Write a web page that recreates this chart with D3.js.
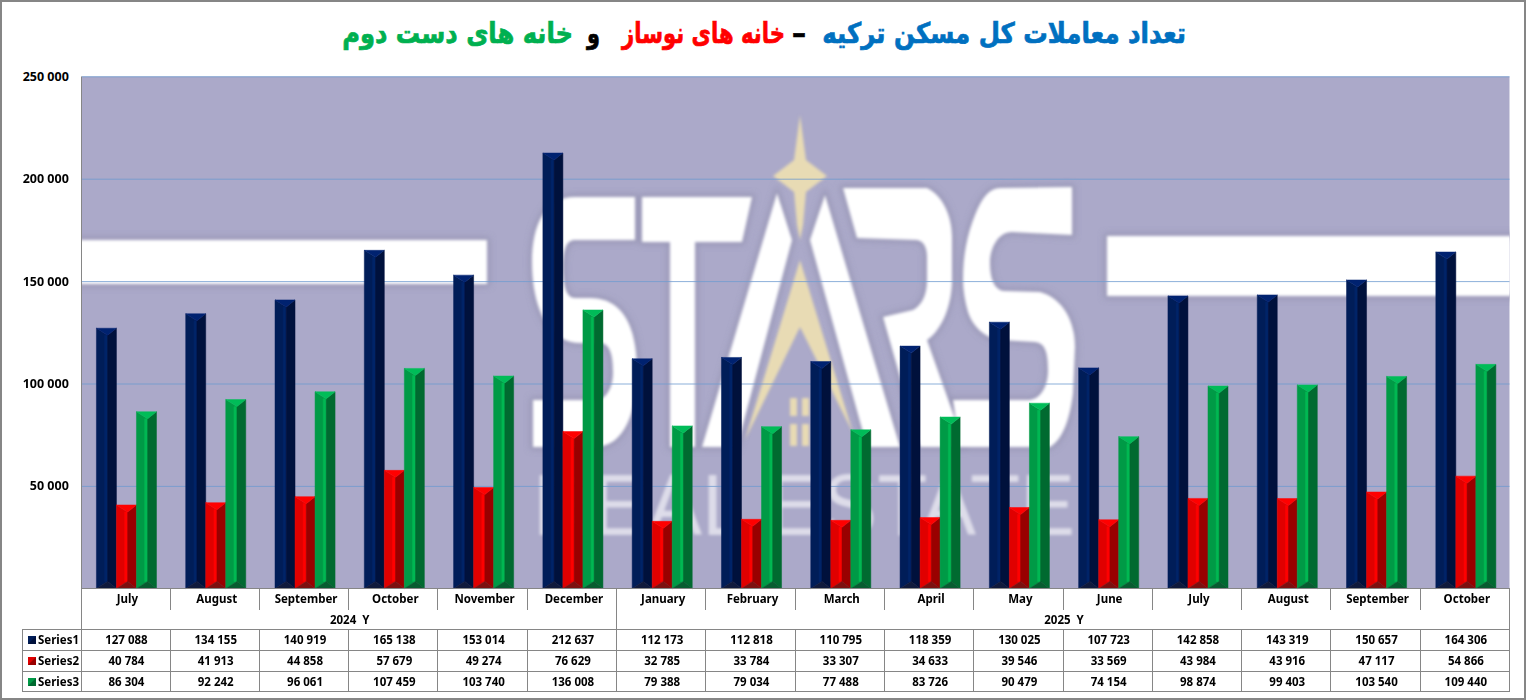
<!DOCTYPE html>
<html>
<head>
<meta charset="utf-8">
<title>Turkey housing sales</title>
<script src="https://cdn.jsdelivr.net/npm/d3@7"></script>
<style>
  html, body { margin: 0; padding: 0; background: #fff; }
  svg { display: block; }
  text { font-family: "Noto Sans", sans-serif; font-weight: 700; fill: #000; }
  .title { font-family: "DejaVu Sans", sans-serif; font-weight: 700; font-size: 24px; direction: rtl; }
</style>
</head>
<body>
<svg id="chart" width="1526" height="700"></svg>
<script>
// Values
var months = ["July", "August", "September", "October", "November", "December",
  "January", "February", "March", "April", "May", "June",
  "July", "August", "September", "October"];
var series1 = [127088, 134155, 140919, 165138, 153014, 212637, 112173, 112818, 110795, 118359, 130025, 107723, 142858, 143319, 150657, 164306];
var series2 = [40784, 41913, 44858, 57679, 49274, 76629, 32785, 33784, 33307, 34633, 39546, 33569, 43984, 43916, 47117, 54866];
var series3 = [86304, 92242, 96061, 107459, 103740, 136008, 79388, 79034, 77488, 83726, 90479, 74154, 98874, 99403, 103540, 109440];
var seriesNames = ["Series1", "Series2", "Series3"];
var yTicks = [50000, 100000, 150000, 200000, 250000];
var years = [{label: "2024\u00a0\u00a0Y", first: 0, last: 5}, {label: "2025\u00a0\u00a0Y", first: 6, last: 15}];

var titleParts = [
  {text: "تعداد معاملات کل مسکن ترکیه", right: 1186, width: 364, color: "#0070c0"},
  {text: "–", right: 806, width: 14, color: "#000"},
  {text: "خانه های نوساز", right: 785, width: 163, color: "#ff0000"},
  {text: "و", right: 600, width: 13, color: "#000"},
  {text: "خانه های دست دوم", right: 573, width: 231, color: "#00b050"}
];

// left, strip, right, top, bottom faces of the bevelled bars
var faces = {
  Series1: ["#001d58", "#002468", "#00113c", "#002270", "#101a3c"],
  Series2: ["#e00000", "#ff0000", "#990000", "#ff0000", "#7c1010"],
  Series3: ["#009a46", "#00b853", "#006a30", "#00bc58", "#085c30"]
};
var values = {Series1: series1, Series2: series2, Series3: series3};

var fmt = d3.formatLocale({decimal: ".", thousands: " ", grouping: [3], currency: ["", ""]}).format(",d");
var lineColor = "#868686";

var plot = {left: 81.8, right: 1510.5, top: 76.5, bottom: 588.5};
var rowY = {months: 610, years: 629, s1: 650, s2: 671, s3: 691};

var svg = d3.select("#chart");

var x = d3.scaleBand().domain(d3.range(months.length)).range([plot.left, plot.right]);
var xInner = d3.scaleBand().domain(seriesNames).range([0, x.bandwidth()]).paddingOuter(0.73);
var y = d3.scaleLinear().domain([0, 250000]).range([plot.bottom, plot.top]);

function drawFrame() {
  svg.append("rect").attr("x", 1).attr("y", 1).attr("width", 1524).attr("height", 698)
    .attr("fill", "#fff").attr("stroke", lineColor).attr("stroke-width", 2);
}

function drawTitle() {
  var t = svg.selectAll("text.title").data(titleParts).enter().append("text")
    .attr("class", "title")
    .style("fill", function(d) { return d.color; })
    .style("stroke", function(d) { return d.color; })
    .style("stroke-width", 0.6)
    .text(function(d) { return d.text; });
  /* Squeeze each piece to the width it has in the picture, the font is wider than the original. */
  t.attr("transform", function(d) {
    var sx = d.width / this.getComputedTextLength();
    return "translate(" + d.right + ",43) scale(" + sx + ",1.18)";
  });
}

function drawWatermark() {
  /* Faded logo behind the bars. It is only decoration, so it is drawn by hand. */
  var defs = svg.append("defs");
  defs.append("filter").attr("id", "soft").attr("x", "-5%").attr("y", "-5%").attr("width", "110%").attr("height", "110%")
    .append("feGaussianBlur").attr("stdDeviation", 1.7);
  defs.append("filter").attr("id", "halo").attr("x", "-5%").attr("y", "-5%").attr("width", "110%").attr("height", "110%")
    .append("feGaussianBlur").attr("stdDeviation", 3);
  defs.append("clipPath").attr("id", "plotClip").append("rect")
    .attr("x", plot.left).attr("y", plot.top)
    .attr("width", plot.right - plot.left - 1).attr("height", plot.bottom - plot.top);

  svg.append("rect").attr("x", plot.left).attr("y", plot.top)
    .attr("width", plot.right - plot.left - 1).attr("height", plot.bottom - plot.top)
    .attr("fill", "#aba9c9");

  var shapes = [
    "M70 240 L487 240 L487 284 L70 284 Z",
    "M1107 236 L1530 236 L1530 296 L1107 296 Z",
    // S
    "M635 197 L575 197 C545 197 532 225 532 262 C532 310 550 343 580 343 L600 343 C610 343 613 355 613 372 C613 390 605 400 595 400 L533 400 L533 447 L595 447 C625 447 637 410 637 372 C637 330 625 298 590 298 L575 298 C566 298 563 285 563 268 C563 250 566 240 575 240 L635 240 Z",
    // T
    "M642 197 L752 197 L742 242 L695 242 L695 447 L670 447 L670 242 L642 242 Z",
    // A
    "M777 193 L792 240 L737 447 L702 447 Z",
    "M825 195 L810 240 L867 447 L900 447 Z",
    // R
    "M843 188 L927 188 C942 195 952 215 952 237 L952 280 C952 305 942 330 927 340 L965 447 L920 447 L883 317 L913 310 C922 305 927 295 927 280 L927 257 C927 248 924 241 917 240 L857 238 Z",
    // S
    "M1072 187 L1072 235 L1012 232 C998 232 990 248 990 263 C990 278 994 290 1004 291 L1040 292 C1062 298 1075 320 1075 347 L1073 393 C1070 420 1062 440 1050 447 L960 447 L953 400 L1030 400 C1042 398 1048 385 1048 370 C1048 352 1045 343 1035 342 L1000 340 C985 338 973 327 968 312 C965 302 963 290 963 280 C963 255 967 235 975 215 C982 197 990 188 1000 188 Z"
  ];

  var clip = svg.append("g").attr("clip-path", "url(#plotClip)");

  // the logo has a faint grey edge, as a scaled up image would
  clip.append("g").attr("filter", "url(#halo)").selectAll("path").data(shapes).enter().append("path")
    .attr("d", function(d) { return d; })
    .attr("fill", "none").attr("stroke", "#8f8dab").attr("stroke-width", 5).attr("opacity", 0.7);

  var g = clip.append("g").attr("filter", "url(#soft)");
  g.selectAll("path.logo").data(shapes).enter().append("path")
    .attr("class", "logo")
    .attr("d", function(d) { return d; })
    .attr("fill", "#fff");

  // star, gold triangle and the little windows
  var gold = [
    "M800 115 L806 160 L827 176 L806 192 L803 225 L800 240 L797 225 L794 192 L773 176 L794 160 Z",
    "M800 260 L853 433 L800 327 L745 440 Z"
  ];
  g.selectAll("path.gold").data(gold).enter().append("path")
    .attr("class", "gold")
    .attr("d", function(d) { return d; })
    .attr("fill", "#e8dbb4");
  g.selectAll("path.win").data([
    "M790 398 L797 398 L797 416 L790 416 Z", "M802 398 L809 398 L809 416 L802 416 Z",
    "M790 424 L797 424 L797 446 L790 446 Z", "M802 424 L809 424 L809 446 L802 446 Z"
  ]).enter().append("path")
    .attr("class", "win")
    .attr("d", function(d) { return d; })
    .attr("fill", "#e8dbb4");

  g.append("text")
    .attr("x", 533).attr("y", 535)
    .attr("textLength", 542).attr("lengthAdjust", "spacingAndGlyphs")
    .style("font-family", "Liberation Sans, sans-serif")
    .style("font-size", "88px").style("font-weight", 400).style("fill", "#fff").attr("opacity", 0.6)
    .text("REAL ESTATE");
}

function drawGrid() {
  var axis = d3.axisLeft(y).tickValues(yTicks).tickFormat(fmt).offset(0.3)
    .tickSize(-(plot.right - plot.left - 1)).tickPadding(13);
  var g = svg.append("g").attr("transform", "translate(" + plot.left + ",0)").call(axis);
  g.select(".domain").remove();
  g.selectAll("line").attr("stroke", "#6f9bd0").attr("stroke-opacity", 0.8).attr("stroke-width", 1);
  g.selectAll("text").style("font-size", "12.5px").style("font-family", "Noto Sans, sans-serif");
  svg.append("line").attr("x1", 81.5).attr("x2", 81.5)
    .attr("y1", plot.top).attr("y2", plot.bottom).attr("stroke", lineColor);
}

function barFaces(name, i) {
  /* Five polygons that give one bar its bevelled look. */
  var v = values[name][i];
  var l = x(i) + xInner(name);
  var w = xInner.bandwidth();
  var r = l + w;
  var mid = l + w * 0.56;
  var bev = 7;
  var top = y(v);
  var base = y(0);
  var pts = [
    [[l, top], [mid, top + bev], [mid, base - bev], [l, base]],
    [[mid - 3, top + bev], [mid, top + bev], [mid, base - bev], [mid - 3, base - bev]],
    [[r, top], [mid, top + bev], [mid, base - bev], [r, base]],
    [[l, top], [r, top], [mid, top + bev]],
    [[l, base], [r, base], [mid, base - bev]]
  ];
  return pts.map(function(p, k) { return {points: p, fill: faces[name][k]}; });
}

function drawBars() {
  var line = d3.line();
  var groups = svg.selectAll("g.series").data(seriesNames).enter().append("g").attr("class", "series");
  var bars = groups.selectAll("g.bar")
    .data(function(name) { return months.map(function(m, i) { return {name: name, i: i}; }); })
    .enter().append("g").attr("class", "bar");
  bars.selectAll("path")
    .data(function(d) { return barFaces(d.name, d.i); })
    .enter().append("path")
      .attr("d", function(d) { return line(d.points) + "Z"; })
      .attr("fill", function(d) { return d.fill; })
      .attr("stroke", function(d) { return d.fill; })
      .attr("stroke-width", 0.5);
}

function hLine(x1, x2, yy) {
  svg.append("line").attr("x1", x1).attr("x2", x2).attr("y1", yy + 0.5).attr("y2", yy + 0.5).attr("stroke", lineColor);
}
function vLine(xx, y1, y2) {
  var px = Math.floor(xx) + 0.5;
  svg.append("line").attr("x1", px).attr("x2", px).attr("y1", y1).attr("y2", y2).attr("stroke", lineColor);
}

function drawTable() {
  var tableRight = 1510;
  hLine(81, tableRight, 588);
  hLine(22, tableRight, rowY.years);
  hLine(22, tableRight, rowY.s1);
  hLine(22, tableRight, rowY.s2);
  hLine(22, tableRight, rowY.s3);
  vLine(22, rowY.years, rowY.s3 + 1);
  vLine(81, 588, rowY.s3 + 1);
  vLine(1509, 588, rowY.s3 + 1);

  d3.range(1, months.length).forEach(function(i) {
    vLine(x(i) - 1, 588, rowY.months);
    vLine(x(i) - 1, rowY.years, rowY.s3 + 1);
  });
  vLine(x(6) - 1, rowY.months, rowY.years);

  svg.selectAll("text.month").data(months).enter().append("text")
    .attr("class", "month cell")
    .attr("x", function(d, i) { return x(i) + x.bandwidth() / 2 + 1; })
    .attr("y", 603)
    .text(function(d) { return d; });

  svg.selectAll("text.year").data(years).enter().append("text")
    .attr("class", "year cell")
    .attr("x", function(d) { return (x(d.first) + x(d.last) + x.bandwidth()) / 2; })
    .attr("y", 624)
    .text(function(d) { return d.label; });

  var rowBase = {Series1: 644, Series2: 665, Series3: 686};
  seriesNames.forEach(function(name) {
    svg.selectAll("text.v" + name).data(values[name]).enter().append("text")
      .attr("class", "v" + name + " cell")
      .attr("x", function(d, i) { return x(i) + x.bandwidth() / 2; })
      .attr("y", rowBase[name])
      .text(fmt);

    // legend key with the same light/dark split as the bars
    var kx = 28, ky = rowBase[name] - 8, ks = 8;
    svg.append("rect").attr("x", kx).attr("y", ky).attr("width", ks).attr("height", ks).attr("fill", faces[name][0]);
    svg.append("path").attr("d", d3.line()([[kx + ks, ky], [kx + ks, ky + ks], [kx, ky + ks]]) + "Z").attr("fill", faces[name][2]);
    svg.append("text").attr("class", "key").attr("x", 38).attr("y", rowBase[name]).text(name);
  });
  svg.selectAll("text.cell, text.key").style("font-size", "11.5px");
  svg.selectAll("text.cell").attr("text-anchor", "middle");
}

drawFrame();
drawWatermark();
drawGrid();
drawBars();
drawTable();
drawTitle();
</script>
</body>
</html>
